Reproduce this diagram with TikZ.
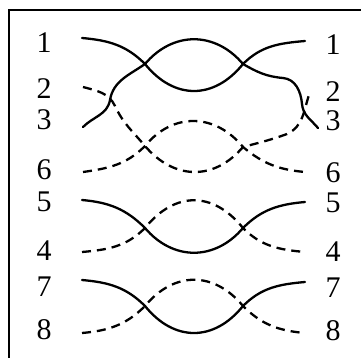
\documentclass[tikz,border=0pt]{standalone}
\usepackage{fontspec}
\setmainfont{Liberation Serif}
\begin{document}
\begin{tikzpicture}[x=1pt,y=-1pt,
  lbl/.style={inner sep=0pt,font=\fontsize{30}{30}\selectfont},
  wire/.style={line width=2.3pt,line cap=round},
  dwire/.style={line width=2.3pt,dash pattern=on 9pt off 6pt},
  frame/.style={line width=2.6pt}]
\useasboundingbox (0,0) rectangle (361,358);
% frame (left and top edges only)
\coordinate (fbl) at (9,358);
\coordinate (ftl) at (9,10);
\coordinate (ftr) at (361,10);
\draw[frame] (fbl) -- (ftl) -- (ftr);
% labels
\foreach \n/\t/\yl/\yr in {a/1/43/45, b/2/89/92, c/3/120/121, d/6/170/173, e/5/202/203, f/4/251/252, g/7/287/288, h/8/330/331}{
  \node[lbl] (l\n) at (44,\yl) {\t};
  \node[lbl] (r\n) at (333,\yr) {\t};
}
% crossing points
\coordinate (X1) at (145,64);  \coordinate (X2) at (243,64);
\coordinate (X3) at (145,146); \coordinate (X4) at (243,147);
\coordinate (X5) at (145,228); \coordinate (X6) at (243,228);
\coordinate (X7) at (145,306); \coordinate (X8) at (243,306);
% top group: wires 1 and 3
\coordinate (L1) at (82,38);  \coordinate (R1) at (305,41);
\coordinate (L3) at (83,127); \coordinate (R3) at (318,128);
\coordinate (M3a) at (110,100); \coordinate (M3b) at (283,78); \coordinate (M3c) at (302,104);
\draw[wire] (L1) to[out=-5,in=135] (X1) .. controls +(29,36) and +(-29,36) .. (X2) to[out=45,in=185] (R1);
\draw[wire] (L3) to[out=45,in=-100] (M3a) to[out=80,in=215] (X1) .. controls +(28,-33) and +(-28,-33) .. (X2) to[out=-30,in=175] (M3b) to[out=-5,in=95] (M3c) to[out=-85,in=130] (R3);
% wires 2 and 6
\coordinate (L2) at (83,87);  \coordinate (R2) at (310,92);
\coordinate (L6) at (83,172); \coordinate (R6) at (305,172);
\coordinate (M2a) at (115,106); \coordinate (M2b) at (287,134);
\draw[dwire] (L2) to[out=-15,in=115] (M2a) to[out=-65,in=130] (X3) .. controls +(29,34) and +(-29,34) .. (X4) to[out=15,in=200] (M2b) to[out=25,in=-110] (R2);
\draw[dwire] (L6) to[out=8,in=-135] (X3) .. controls +(28,-34) and +(-28,-34) .. (X4) to[out=-40,in=175] (R6);
% wires 5 and 4
\coordinate (L5) at (82,200); \coordinate (R5) at (305,202);
\coordinate (L4) at (82,252); \coordinate (R4) at (305,252);
\draw[wire] (L5) to[out=-5,in=135] (X5) .. controls +(28,33) and +(-28,33) .. (X6) to[out=45,in=185] (R5);
\draw[dwire] (L4) to[out=5,in=-135] (X5) .. controls +(30,-37) and +(-30,-37) .. (X6) to[out=-45,in=175] (R4);
% wires 7 and 8
\coordinate (L7) at (82,280); \coordinate (R7) at (305,282);
\coordinate (L8) at (82,333); \coordinate (R8) at (305,333);
\draw[wire] (L7) to[out=-5,in=135] (X7) .. controls +(29,36) and +(-29,36) .. (X8) to[out=45,in=185] (R7);
\draw[dwire] (L8) to[out=5,in=-135] (X7) .. controls +(29,-35) and +(-29,-35) .. (X8) to[out=-45,in=175] (R8);
\end{tikzpicture}
\end{document}
